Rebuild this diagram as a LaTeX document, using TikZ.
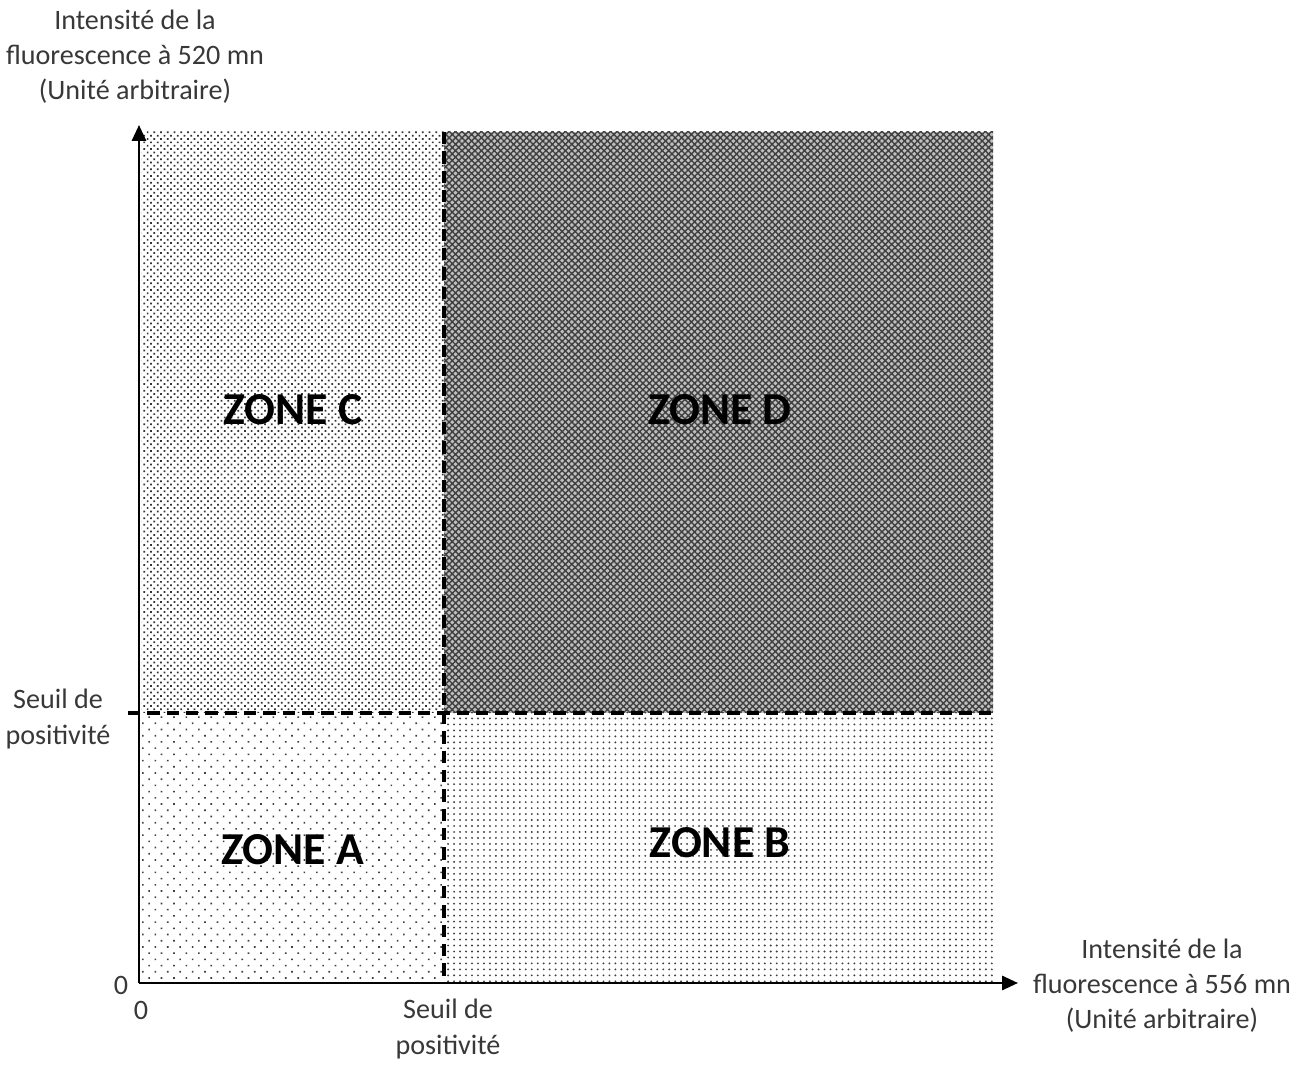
\documentclass[tikz,border=0pt]{standalone}
\usepackage{fontspec}
\setmainfont{Carlito}
\usetikzlibrary{patterns.meta,arrows.meta}

\begin{document}
\begin{tikzpicture}[
    x=1cm, y=1cm,
    axis/.style={line width=1.4pt, -{Triangle[length=9pt,width=8pt]}},
    seuil/.style={line width=1.8pt, dash pattern=on 7pt off 4pt},
    label/.style={align=center, text=black!78, font=\fontsize{16}{20}\selectfont},
    zonelabel/.style={font=\fontsize{26}{30}\selectfont\bfseries}
]
\useasboundingbox (-2.78,-1.64) rectangle (23.14,19.66);

% Zones
\fill[pattern={Dots[distance=2.7pt,radius=0.7pt,angle=45]}, pattern color=black!80]
    (0.06,5.4) rectangle (6.1,17.02);
\fill[gray!50] (6.1,5.4) rectangle (17.08,17.02);
\fill[pattern={Hatch[distance=2.6pt,angle=45,line width=0.8pt]}, pattern color=black!75]
    (6.1,5.4) rectangle (17.08,17.02);
\fill[pattern={Dots[distance=5pt,radius=0.65pt,angle=45]}, pattern color=black!75]
    (0.06,0) rectangle (6.1,5.4);
\fill[pattern={Dots[distance=3.4pt,radius=0.6pt]}, pattern color=black!75]
    (6.1,0) rectangle (17.08,5.4);

% Axes
\coordinate (O) at (0,0);
\coordinate (xmax) at (17.58,0);
\coordinate (ymax) at (0,17.16);
\draw[axis] (O) -- (xmax);
\draw[axis] (O) -- (ymax);

% Seuils
\coordinate (sx0) at (6.1,0);
\coordinate (sx1) at (6.1,17.02);
\coordinate (sy0) at (-0.22,5.4);
\coordinate (sy1) at (17.08,5.4);
\draw[seuil] (sx1) -- (sx0);
\draw[seuil] (sy0) -- (sy1);

% Textes
\node[label] (ytitle) at (-0.08,18.52) {Intensité de la\\fluorescence à 520 mn\\(Unité arbitraire)};
\node[label] (xtitle) at (20.46,-0.06) {Intensité de la\\fluorescence à 556 mn\\(Unité arbitraire)};
\node[label] (yseuil) at (-1.62,5.28) {Seuil de\\positivité};
\node[label] (xseuil) at (6.18,-0.92) {Seuil de\\positivité};
\node[label] (y0) at (-0.36,-0.04) {0};
\node[label] (x0) at (0.04,-0.54) {0};

\node[zonelabel] (zoneC) at (3.08,11.46) {ZONE C};
\node[zonelabel] (zoneD) at (11.62,11.46) {ZONE D};
\node[zonelabel] (zoneA) at (3.08,2.66) {ZONE A};
\node[zonelabel] (zoneB) at (11.62,2.8) {ZONE B};

\end{tikzpicture}
\end{document}
